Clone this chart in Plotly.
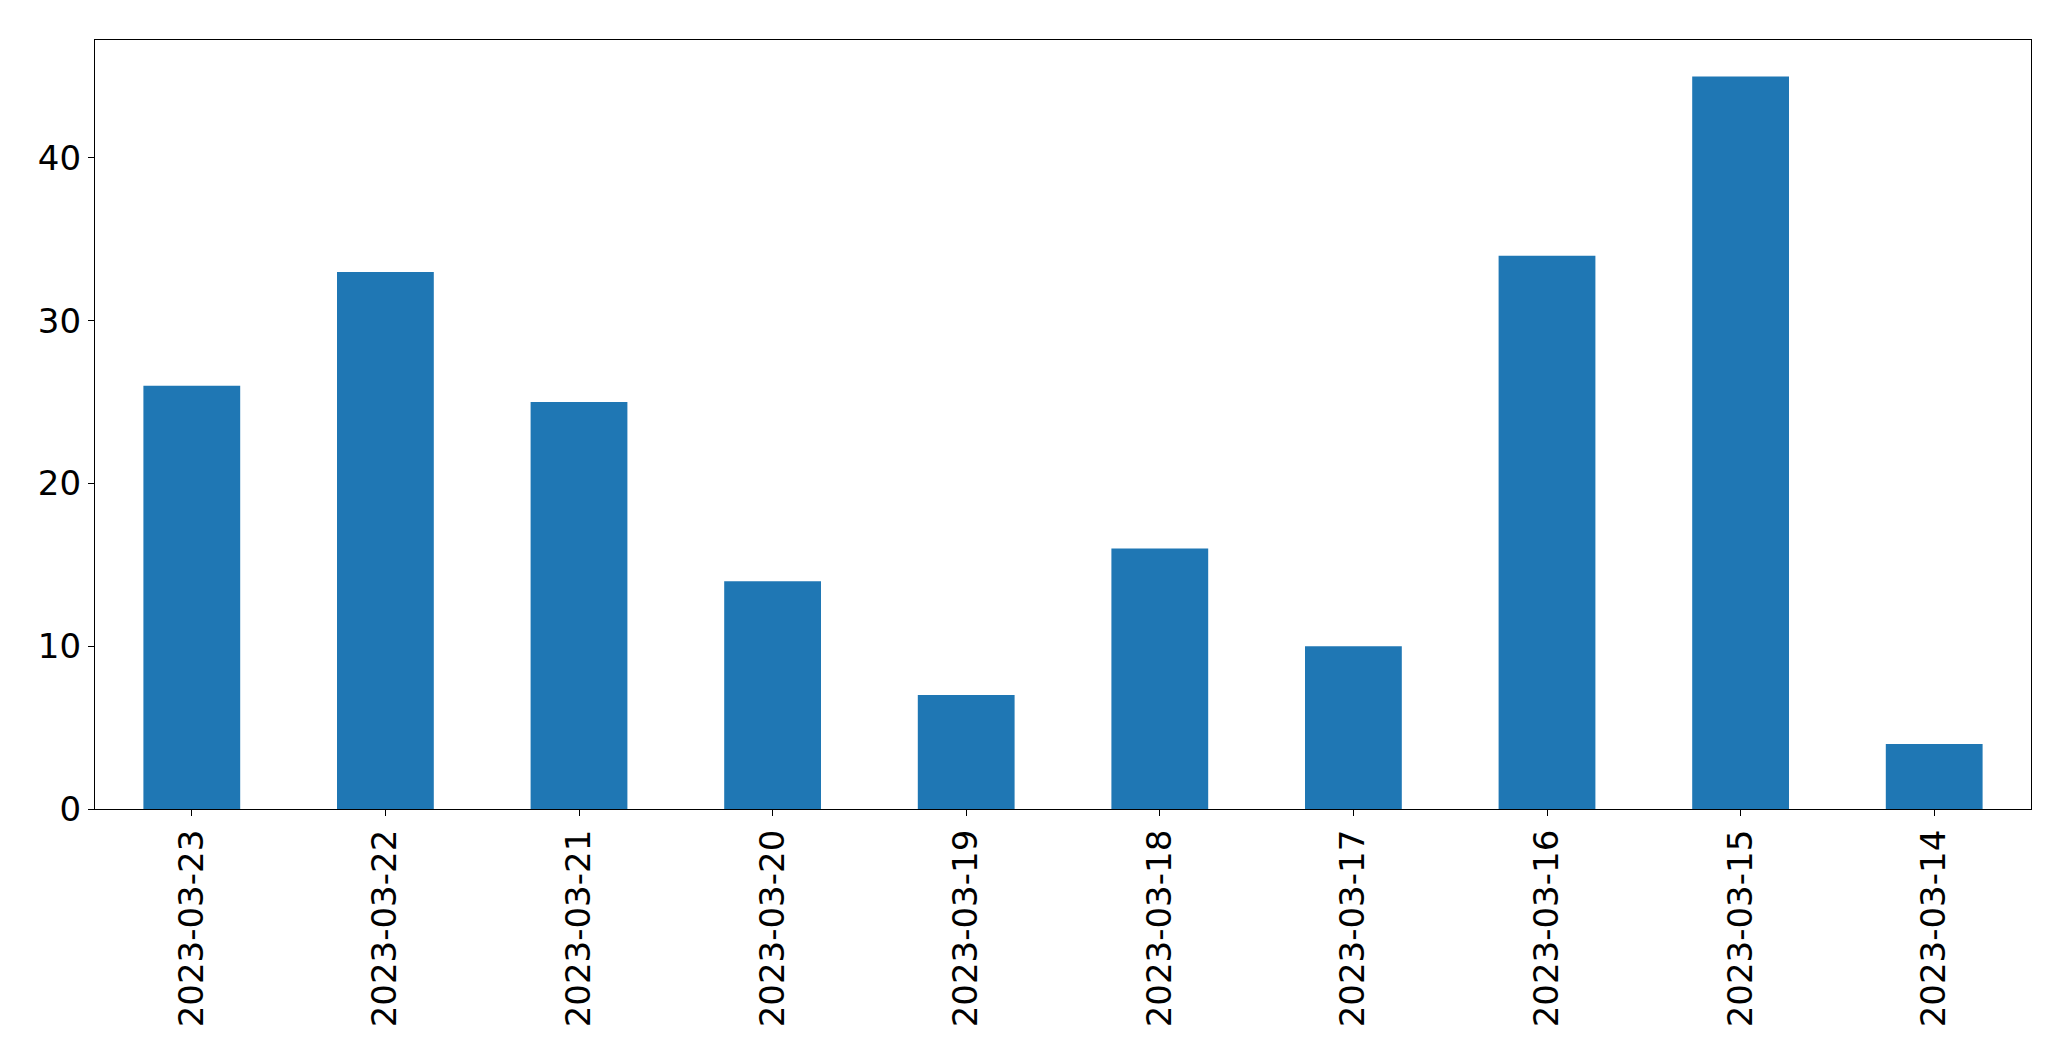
import plotly.graph_objects as go

dates = ["2023-03-23", "2023-03-22", "2023-03-21", "2023-03-20", "2023-03-19",
         "2023-03-18", "2023-03-17", "2023-03-16", "2023-03-15", "2023-03-14"]
counts = [26, 33, 25, 14, 7, 16, 10, 34, 45, 4]

fig = go.Figure(go.Bar(x=dates, y=counts, width=0.5, marker=dict(color="#1f77b4", line=dict(width=0))))

font = dict(family="DejaVu Sans", size=34, color="black")
fig.update_layout(
    width=2071, height=1061,
    margin=dict(l=86.5, r=47.5, t=31.5, b=260, autoexpand=False),
    plot_bgcolor="white", paper_bgcolor="white",
    font=font, showlegend=False,
)
fig.update_xaxes(type="category", range=[-0.5, 9.5], tickangle=-90,
                 showline=True, mirror=True, linecolor="black", linewidth=1.3,
                 ticks="outside", ticklen=6, tickcolor="black", tickwidth=1.3,
                 showgrid=False, zeroline=False, tickfont=font, automargin=False)
fig.update_yaxes(range=[0, 47.25], tickvals=[0, 10, 20, 30, 40],
                 showline=True, mirror=True, linecolor="black", linewidth=1.3,
                 ticks="outside", ticklen=6, tickcolor="black", tickwidth=1.3,
                 showgrid=False, zeroline=False, tickfont=font, automargin=False)
fig.write_html("out.html")
